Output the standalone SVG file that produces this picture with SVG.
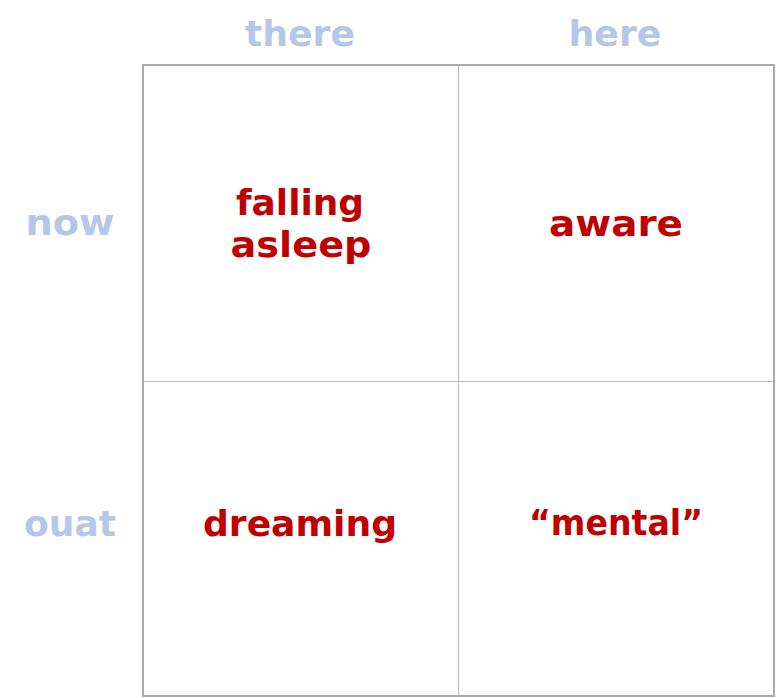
<svg xmlns="http://www.w3.org/2000/svg" width="776" height="698" viewBox="0 0 776 698">
<style>
.hdr{font-family:"DejaVu Sans","Liberation Sans",sans-serif;font-size:36px;fill:#b4c7e7;text-anchor:middle;font-weight:bold}
.cell{font-family:"DejaVu Sans","Liberation Sans",sans-serif;font-size:36px;fill:#c00000;text-anchor:middle;font-weight:bold}
.grid{stroke:#b8b8b8;stroke-width:1;fill:none}
</style>
<rect width="776" height="698" fill="#ffffff"/>
<g id="headers">
<text class="hdr" x="300" y="46" textLength="110" lengthAdjust="spacingAndGlyphs">there</text>
<text class="hdr" x="615" y="46" textLength="93" lengthAdjust="spacingAndGlyphs">here</text>
<text class="hdr" x="70" y="235" textLength="89" lengthAdjust="spacingAndGlyphs">now</text>
<text class="hdr" x="70" y="536" textLength="92" lengthAdjust="spacingAndGlyphs">ouat</text>
</g>
<g id="connectors">
<line class="grid" x1="458.5" y1="65" x2="458.5" y2="696"/>
<line class="grid" x1="143" y1="381.5" x2="774" y2="381.5"/>
<rect x="143" y="65" width="631" height="631" fill="none" stroke="#aaaaaa" stroke-width="2"/>
</g>
<g id="falling-asleep">
<text class="cell" x="300" y="215" textLength="128" lengthAdjust="spacingAndGlyphs">falling</text>
<text class="cell" x="301" y="257" textLength="141" lengthAdjust="spacingAndGlyphs">asleep</text>
</g>
<g id="aware">
<text class="cell" x="616" y="236" textLength="134" lengthAdjust="spacingAndGlyphs">aware</text>
</g>
<g id="dreaming">
<text class="cell" x="300" y="536" textLength="194" lengthAdjust="spacingAndGlyphs">dreaming</text>
</g>
<g id="mental">
<text class="cell" x="616" y="535" textLength="174" lengthAdjust="spacingAndGlyphs">“mental”</text>
</g>
</svg>
